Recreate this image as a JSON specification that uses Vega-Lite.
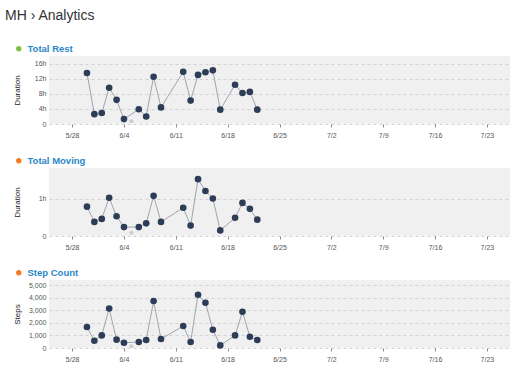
{
  "$schema": "https://vega.github.io/schema/vega-lite/v6.json",
  "background": "white",
  "padding": {"left": 5, "top": 9, "right": 0, "bottom": 0},
  "title": {"text": "MH › Analytics", "anchor": "start", "fontSize": 14, "font": "Liberation Sans", "fontWeight": "normal", "color": "#333333", "offset": 21, "dx": -8},
  "data": {"values": [
    {"date": "2017-05-30", "rest": 13.5, "moving": 0.79, "steps": 1667, "status": "complete"},
    {"date": "2017-05-31", "rest": 2.6, "moving": 0.38, "steps": 580, "status": "complete"},
    {"date": "2017-06-01", "rest": 2.9, "moving": 0.46, "steps": 1000, "status": "complete"},
    {"date": "2017-06-02", "rest": 9.6, "moving": 1.03, "steps": 3140, "status": "complete"},
    {"date": "2017-06-03", "rest": 6.4, "moving": 0.53, "steps": 660, "status": "complete"},
    {"date": "2017-06-04", "rest": 1.3, "moving": 0.24, "steps": 420, "status": "complete"},
    {"date": "2017-06-05", "rest": 0.7, "moving": 0.09, "steps": 130, "status": "partial"},
    {"date": "2017-06-06", "rest": 3.9, "moving": 0.24, "steps": 476, "status": "complete"},
    {"date": "2017-06-07", "rest": 2.0, "moving": 0.34, "steps": 635, "status": "complete"},
    {"date": "2017-06-08", "rest": 12.5, "moving": 1.08, "steps": 3730, "status": "complete"},
    {"date": "2017-06-09", "rest": 4.4, "moving": 0.38, "steps": 714, "status": "complete"},
    {"date": "2017-06-12", "rest": 13.8, "moving": 0.76, "steps": 1746, "status": "complete"},
    {"date": "2017-06-13", "rest": 6.2, "moving": 0.28, "steps": 476, "status": "complete"},
    {"date": "2017-06-14", "rest": 13.0, "moving": 1.53, "steps": 4230, "status": "complete"},
    {"date": "2017-06-15", "rest": 13.7, "moving": 1.21, "steps": 3595, "status": "complete"},
    {"date": "2017-06-16", "rest": 14.2, "moving": 1.01, "steps": 1452, "status": "complete"},
    {"date": "2017-06-17", "rest": 3.8, "moving": 0.15, "steps": 206, "status": "complete"},
    {"date": "2017-06-19", "rest": 10.4, "moving": 0.49, "steps": 1000, "status": "complete"},
    {"date": "2017-06-20", "rest": 8.2, "moving": 0.89, "steps": 2880, "status": "complete"},
    {"date": "2017-06-21", "rest": 8.5, "moving": 0.73, "steps": 897, "status": "complete"},
    {"date": "2017-06-22", "rest": 3.8, "moving": 0.44, "steps": 635, "status": "complete"}
  ]},
  "spacing": 18,
  "vconcat": [
    {
      "width": 461, "height": 68,
      "encoding": {
        "x": {"field": "date", "type": "temporal", "title": null,
          "scale": {"type": "utc", "domain": [{"year": 2017, "month": 5, "date": 24, "hours": 21, "utc": true}, {"year": 2017, "month": 7, "date": 26, "hours": 3, "utc": true}]},
          "axis": {"format": "%-m/%-d", "values": [
            {"year": 2017, "month": 5, "date": 28, "utc": true}, {"year": 2017, "month": 6, "date": 4, "utc": true}, {"year": 2017, "month": 6, "date": 11, "utc": true}, {"year": 2017, "month": 6, "date": 18, "utc": true}, {"year": 2017, "month": 6, "date": 25, "utc": true}, {"year": 2017, "month": 7, "date": 2, "utc": true}, {"year": 2017, "month": 7, "date": 9, "utc": true}, {"year": 2017, "month": 7, "date": 16, "utc": true}, {"year": 2017, "month": 7, "date": 23, "utc": true}]}},
        "y": {"field": "rest", "type": "quantitative", "title": "Duration",
          "scale": {"domain": [0, 18], "nice": false},
          "axis": {"values": [0, 4, 8, 12, 16], "labelExpr": "datum.value == 0 ? '0' : datum.value + 'h'"}}
      },
      "layer": [
        {"transform": [{"filter": "datum.status == 'complete'"}], "mark": {"type": "line", "color": "#9ea5ae", "strokeWidth": 1}},
        {"transform": [{"filter": "datum.status == 'complete'"}], "mark": {"type": "circle", "color": "#2e3d57", "size": 44, "opacity": 1}},
        {"transform": [{"filter": "datum.status == 'partial'"}], "mark": {"type": "circle", "color": "#cccccc", "size": 16, "opacity": 1}},
        {"transform": [{"filter": "datum.status == 'partial'"}], "mark": {"type": "circle", "opacity": 0},
          "encoding": {"color": {"datum": "Total Rest", "type": "nominal", "scale": {"range": ["#7dc242"]},
            "legend": {"orient": "none", "legendX": -35, "legendY": -12, "title": null, "symbolOpacity": 1, "symbolSize": 28, "labelColor": "#2a88c9", "labelFontWeight": "bold", "labelFontSize": 9.5, "labelFont": "Liberation Sans", "labelOffset": 4}}}}
      ]
    },
    {
      "width": 461, "height": 68,
      "encoding": {
        "x": {"field": "date", "type": "temporal", "title": null,
          "scale": {"type": "utc", "domain": [{"year": 2017, "month": 5, "date": 24, "hours": 21, "utc": true}, {"year": 2017, "month": 7, "date": 26, "hours": 3, "utc": true}]},
          "axis": {"format": "%-m/%-d", "values": [
            {"year": 2017, "month": 5, "date": 28, "utc": true}, {"year": 2017, "month": 6, "date": 4, "utc": true}, {"year": 2017, "month": 6, "date": 11, "utc": true}, {"year": 2017, "month": 6, "date": 18, "utc": true}, {"year": 2017, "month": 6, "date": 25, "utc": true}, {"year": 2017, "month": 7, "date": 2, "utc": true}, {"year": 2017, "month": 7, "date": 9, "utc": true}, {"year": 2017, "month": 7, "date": 16, "utc": true}, {"year": 2017, "month": 7, "date": 23, "utc": true}]}},
        "y": {"field": "moving", "type": "quantitative", "title": "Duration",
          "scale": {"domain": [0, 1.83], "nice": false},
          "axis": {"values": [0, 1], "labelExpr": "datum.value == 0 ? '0' : datum.value + 'h'"}}
      },
      "layer": [
        {"transform": [{"filter": "datum.status == 'complete'"}], "mark": {"type": "line", "color": "#9ea5ae", "strokeWidth": 1}},
        {"transform": [{"filter": "datum.status == 'complete'"}], "mark": {"type": "circle", "color": "#2e3d57", "size": 44, "opacity": 1}},
        {"transform": [{"filter": "datum.status == 'partial'"}], "mark": {"type": "circle", "color": "#cccccc", "size": 16, "opacity": 1}},
        {"transform": [{"filter": "datum.status == 'partial'"}], "mark": {"type": "circle", "opacity": 0},
          "encoding": {"color": {"datum": "Total Moving", "type": "nominal", "scale": {"range": ["#f47b20"]},
            "legend": {"orient": "none", "legendX": -35, "legendY": -12, "title": null, "symbolOpacity": 1, "symbolSize": 28, "labelColor": "#2a88c9", "labelFontWeight": "bold", "labelFontSize": 9.5, "labelFont": "Liberation Sans", "labelOffset": 4}}}}
      ]
    },
    {
      "width": 461, "height": 68,
      "encoding": {
        "x": {"field": "date", "type": "temporal", "title": null,
          "scale": {"type": "utc", "domain": [{"year": 2017, "month": 5, "date": 24, "hours": 21, "utc": true}, {"year": 2017, "month": 7, "date": 26, "hours": 3, "utc": true}]},
          "axis": {"format": "%-m/%-d", "values": [
            {"year": 2017, "month": 5, "date": 28, "utc": true}, {"year": 2017, "month": 6, "date": 4, "utc": true}, {"year": 2017, "month": 6, "date": 11, "utc": true}, {"year": 2017, "month": 6, "date": 18, "utc": true}, {"year": 2017, "month": 6, "date": 25, "utc": true}, {"year": 2017, "month": 7, "date": 2, "utc": true}, {"year": 2017, "month": 7, "date": 9, "utc": true}, {"year": 2017, "month": 7, "date": 16, "utc": true}, {"year": 2017, "month": 7, "date": 23, "utc": true}]}},
        "y": {"field": "steps", "type": "quantitative", "title": "Steps",
          "scale": {"domain": [0, 5400], "nice": false},
          "axis": {"values": [0, 1000, 2000, 3000, 4000, 5000], "labelExpr": "format(datum.value, ',')"}}
      },
      "layer": [
        {"transform": [{"filter": "datum.status == 'complete'"}], "mark": {"type": "line", "color": "#9ea5ae", "strokeWidth": 1}},
        {"transform": [{"filter": "datum.status == 'complete'"}], "mark": {"type": "circle", "color": "#2e3d57", "size": 44, "opacity": 1}},
        {"transform": [{"filter": "datum.status == 'partial'"}], "mark": {"type": "circle", "color": "#cccccc", "size": 16, "opacity": 1}},
        {"transform": [{"filter": "datum.status == 'partial'"}], "mark": {"type": "circle", "opacity": 0},
          "encoding": {"color": {"datum": "Step Count", "type": "nominal", "scale": {"range": ["#f47b20"]},
            "legend": {"orient": "none", "legendX": -35, "legendY": -12, "title": null, "symbolOpacity": 1, "symbolSize": 28, "labelColor": "#2a88c9", "labelFontWeight": "bold", "labelFontSize": 9.5, "labelFont": "Liberation Sans", "labelOffset": 4}}}}
      ]
    }
  ],
  "resolve": {"scale": {"color": "independent"}, "legend": {"color": "independent"}},
  "config": {
    "view": {"fill": "#f0f0f0", "stroke": null},
    "font": "Liberation Sans",
    "axis": {"domain": false, "labelFont": "Liberation Sans", "labelFontSize": 7, "labelColor": "#555555", "titleFont": "Liberation Sans", "titleFontSize": 8, "titleFontWeight": "normal", "titleColor": "#222222"},
    "axisX": {"grid": false, "ticks": true, "tickSize": 3, "tickColor": "#888888", "labelPadding": 4, "labelFlush": false, "labelOverlap": false},
    "axisY": {"grid": true, "gridColor": "#d2d2d2", "gridDash": [3, 3], "ticks": false, "labelPadding": 3, "titleX": -28, "titleY": 34, "titleAngle": -90, "titleAlign": "center", "titleBaseline": "bottom"}
  }
}
